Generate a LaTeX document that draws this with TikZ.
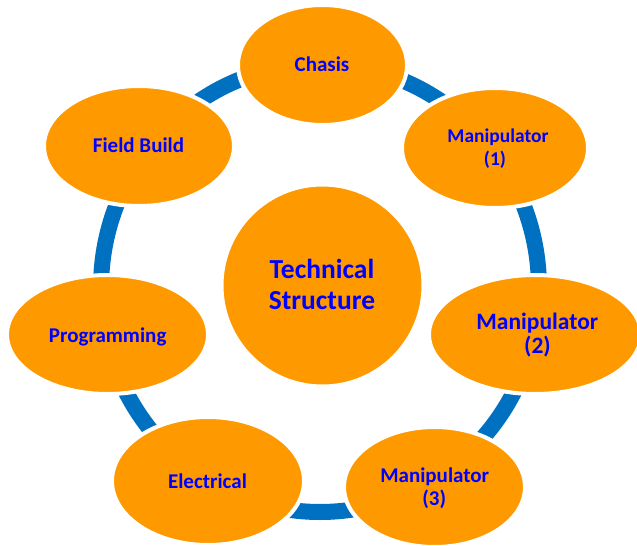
\documentclass[tikz,border=0pt]{standalone}
\usepackage{fontspec}
\setmainfont{Carlito}
\usetikzlibrary{shapes.geometric}
\definecolor{ringblue}{RGB}{0,112,192}
\definecolor{orng}{RGB}{255,153,0}
\definecolor{txtblue}{RGB}{0,0,255}
\begin{document}
\begin{tikzpicture}[x=1pt,y=-1pt,
  blob/.style={ellipse, fill=orng, draw=white, line width=4pt, inner sep=0pt},
  lbl/.style={text=txtblue, font=\bfseries\fontsize{21}{25}\selectfont, anchor=base, inner sep=0pt},
  big/.style={text=txtblue, font=\bfseries\fontsize{27.5}{30}\selectfont, anchor=base, inner sep=0pt}]
\useasboundingbox (0,0) rectangle (637,546);
\clip (0,0) rectangle (637,546);
\coordinate (rc) at (320,288);
\draw[ringblue, line width=16pt] (rc) ellipse[x radius=219, y radius=224];
% ellipses
\node[blob, minimum width=169pt, minimum height=120pt] (chasis) at (322.5,65) {};
\node[blob, minimum width=186pt, minimum height=120pt] (m1) at (495,148) {};
\node[blob, minimum width=212pt, minimum height=119pt] (m2) at (535,334.5) {};
\node[blob, minimum width=181pt, minimum height=120pt] (m3) at (434.5,487) {};
\node[blob, minimum width=192pt, minimum height=128pt] (elec) at (208,481) {};
\node[blob, minimum width=201pt, minimum height=119pt] (prog) at (107.5,334.5) {};
\node[blob, minimum width=190pt, minimum height=120pt] (field) at (139,146) {};
\node[circle, fill=orng, draw=white, line width=4pt, inner sep=0pt, minimum size=202pt] (center) at (322.5,285.5) {};
% labels
\node[lbl] (tchasis) at (322,71.7) {Chasis};
\node[lbl] (tfield) at (138.5,152.7) {Field Build};
\node[lbl, font=\bfseries\fontsize{19.5}{23}\selectfont] (tm1a) at (498,142.7) {Manipulator};
\node[lbl, font=\bfseries\fontsize{19.5}{23}\selectfont] (tm1b) at (495,165) {(1)};
\node[lbl, font=\bfseries\fontsize{23.5}{27}\selectfont] (tm2a) at (537.3,329) {Manipulator};
\node[lbl, font=\bfseries\fontsize{23.5}{27}\selectfont] (tm2b) at (537.5,353) {(2)};
\node[lbl] (tm3a) at (434.7,482.3) {Manipulator};
\node[lbl] (tm3b) at (434.3,505) {(3)};
\node[lbl] (tprog) at (107.7,342) {Programming};
\node[lbl] (telec) at (207.5,488) {Electrical};
\node[big] (ttech) at (322,278.7) {Technical};
\node[big] (tstruct) at (322,309) {Structure};
\end{tikzpicture}
\end{document}
